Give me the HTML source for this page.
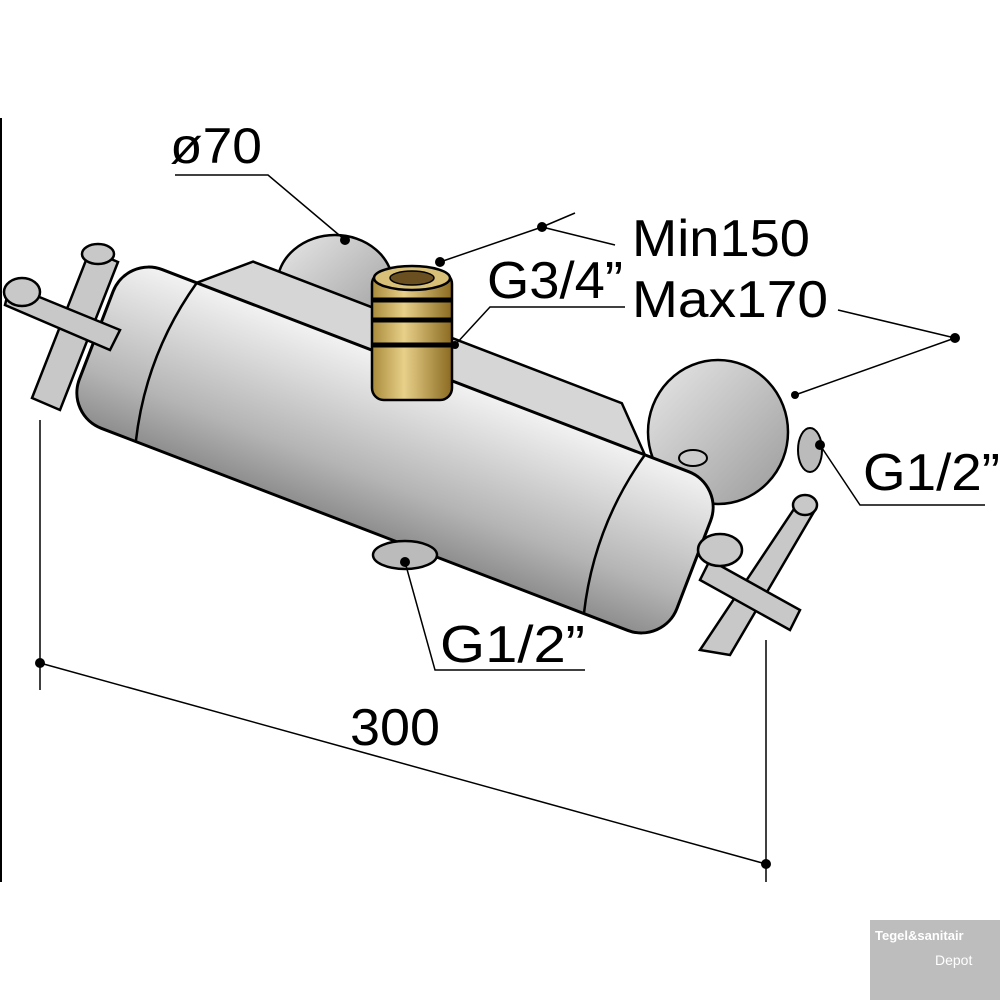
<!DOCTYPE html>
<html><head><meta charset="utf-8"><style>
html,body{margin:0;padding:0;background:#fff;}
svg{display:block;}
text{font-family:"Liberation Sans",sans-serif;fill:#000;}
</style></head><body>
<svg width="1000" height="1000" viewBox="0 0 1000 1000" xmlns="http://www.w3.org/2000/svg">
<defs>
<linearGradient id="body" x1="0" y1="0" x2="0" y2="1">
<stop offset="0" stop-color="#f2f2f2"/><stop offset="0.3" stop-color="#d8d8d8"/><stop offset="0.7" stop-color="#b4b4b4"/><stop offset="1" stop-color="#8e8e8e"/>
</linearGradient>
<linearGradient id="flange" x1="0" y1="0" x2="1" y2="1">
<stop offset="0" stop-color="#e8e8e8"/><stop offset="1" stop-color="#9a9a9a"/>
</linearGradient>
<linearGradient id="brass" x1="0" y1="0" x2="1" y2="0">
<stop offset="0" stop-color="#a88a3a"/><stop offset="0.4" stop-color="#e8d08a"/><stop offset="1" stop-color="#8a6a20"/>
</linearGradient>
</defs>
<line x1="1" y1="118" x2="1" y2="882" stroke="#000" stroke-width="2"/>
<ellipse cx="335" cy="285" rx="58" ry="50" fill="url(#flange)" stroke="#000" stroke-width="2.5"/>
<ellipse cx="718" cy="432" rx="70" ry="72" fill="url(#flange)" stroke="#000" stroke-width="2.5"/>
<ellipse cx="810" cy="450" rx="12" ry="22" fill="#bbb" stroke="#000" stroke-width="2"/>
<g transform="rotate(21 395 450)">
<path d="M150 365 L195 325 L590 325 L630 365" fill="#d6d6d6" stroke="#000" stroke-width="2.5"/>
<rect x="75" y="365" width="640" height="170" rx="38" fill="url(#body)" stroke="#000" stroke-width="3"/>
<path d="M150 365 Q128 450 150 535" fill="none" stroke="#000" stroke-width="2.5"/>
<path d="M630 365 Q608 450 630 535" fill="none" stroke="#000" stroke-width="2.5"/>
</g>
<ellipse cx="405" cy="555" rx="32" ry="14" fill="#bbb" stroke="#000" stroke-width="2.5"/>
<ellipse cx="693" cy="458" rx="14" ry="8" fill="#ccc" stroke="#000" stroke-width="2"/>
<rect x="372" y="272" width="80" height="128" rx="12" fill="url(#brass)" stroke="#000" stroke-width="2.5"/>
<line x1="372" y1="300" x2="452" y2="300" stroke="#000" stroke-width="5"/>
<line x1="372" y1="320" x2="452" y2="320" stroke="#000" stroke-width="5"/>
<line x1="372" y1="345" x2="452" y2="345" stroke="#000" stroke-width="5"/>
<ellipse cx="412" cy="278" rx="38" ry="12" fill="#d8c078" stroke="#000" stroke-width="2.5"/>
<ellipse cx="412" cy="278" rx="22" ry="7" fill="#6a5020" stroke="#000" stroke-width="1.5"/>
<g stroke="#000" stroke-width="2.5" fill="#c8c8c8">
<path d="M90 250 L118 262 L60 410 L32 398 Z"/>
<path d="M10 285 L120 330 L110 350 L5 305 Z"/>
<ellipse cx="22" cy="292" rx="18" ry="14"/>
<ellipse cx="98" cy="254" rx="16" ry="10"/>
</g>
<g stroke="#000" stroke-width="2.5" fill="#c8c8c8">
<path d="M800 500 L815 510 L730 655 L700 650 Z"/>
<path d="M710 560 L800 610 L790 630 L700 580 Z"/>
<ellipse cx="720" cy="550" rx="22" ry="16"/>
<ellipse cx="805" cy="505" rx="12" ry="10"/>
</g>
<g stroke="#000" stroke-width="1.5" fill="none">
<line x1="40" y1="420" x2="40" y2="690"/>
<line x1="766" y1="640" x2="766" y2="882"/>
<line x1="40" y1="663" x2="766" y2="864"/>
<polyline points="175,175 268,175 345,240"/>
<polyline points="575,213 542,227 440,262"/>
<line x1="542" y1="227" x2="615" y2="245"/>
<polyline points="625,307 490,307 455,345"/>
<line x1="838" y1="310" x2="955" y2="338"/>
<line x1="955" y1="338" x2="795" y2="395"/>
<polyline points="985,505 860,505 820,445"/>
<polyline points="585,670 435,670 405,562"/>
</g>
<g fill="#000">
<circle cx="40" cy="663" r="5"/><circle cx="766" cy="864" r="5"/>
<circle cx="345" cy="240" r="5"/><circle cx="542" cy="227" r="5"/>
<circle cx="440" cy="262" r="5"/><circle cx="955" cy="338" r="5"/>
<circle cx="795" cy="395" r="4"/><circle cx="820" cy="445" r="5"/>
<circle cx="405" cy="562" r="5"/><circle cx="455" cy="345" r="4"/>
</g>
<text x="170" y="163" font-size="50" textLength="92" lengthAdjust="spacingAndGlyphs">ø70</text>
<text x="632" y="256" font-size="52" textLength="178" lengthAdjust="spacingAndGlyphs">Min150</text>
<text x="487" y="298" font-size="52" textLength="136" lengthAdjust="spacingAndGlyphs">G3/4”</text>
<text x="632" y="317" font-size="52" textLength="196" lengthAdjust="spacingAndGlyphs">Max170</text>
<text x="863" y="490" font-size="52" textLength="137" lengthAdjust="spacingAndGlyphs">G1/2”</text>
<text x="440" y="662" font-size="52" textLength="145" lengthAdjust="spacingAndGlyphs">G1/2”</text>
<text x="350" y="745" font-size="52" textLength="90" lengthAdjust="spacingAndGlyphs">300</text>
<rect x="870" y="920" width="130" height="80" fill="#bdbdbd"/>
<text x="875" y="940" font-size="13" font-weight="bold" style="fill:#fff">Tegel&amp;sanitair</text>
<text x="935" y="965" font-size="14" style="fill:#fff">Depot</text>
</svg>
</body></html>
